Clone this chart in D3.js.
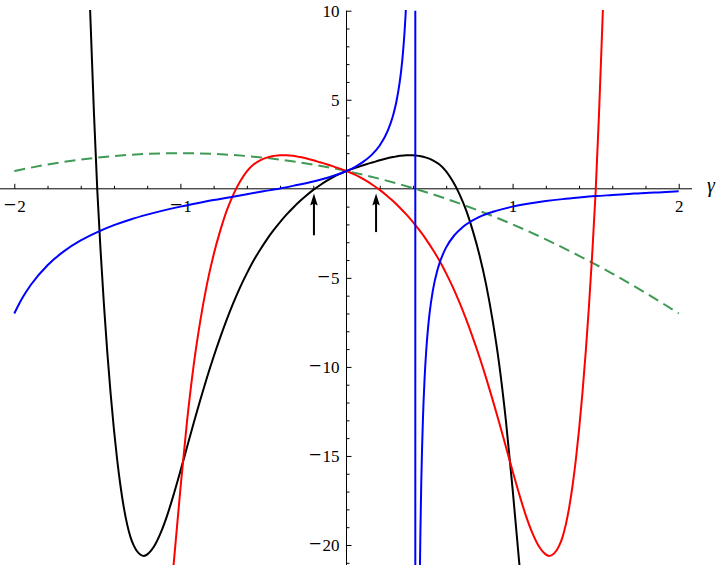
<!DOCTYPE html>
<html><head><meta charset="utf-8">
<script src="https://cdn.jsdelivr.net/npm/d3@7"></script>
<style>body{margin:0;background:#fff}svg{display:block}
.lbl{font-family:"Liberation Serif","DejaVu Serif",serif;}
</style>
</head><body>
<svg id="c" width="720" height="565"></svg>
<script>
// ---- data ----
const xTickValues = [-2, -1, 1, 2];
const yTickValues = [-20, -15, -10, -5, 5, 10];
const axisLabel = "γ";

const greenX = [-2, -1.8, -1.6, -1.4, -1.2, -1.0, -0.8, -0.6, -0.4, -0.2, 0, 0.2, 0.4, 0.6, 0.8, 1.0, 1.2, 1.4, 1.6, 1.8, 2.0];
const greenY = [1, 1.36, 1.64, 1.84, 1.96, 2, 1.96, 1.84, 1.64, 1.36, 1, 0.56, 0.04, -0.56, -1.24, -2, -2.84, -3.76, -4.76, -5.84, -7];

const blueLeftX = [-2, -1.95, -1.9, -1.8, -1.7, -1.6, -1.5, -1.4, -1.3, -1.2, -1.1, -1.0, -0.9, -0.8, -0.7, -0.6, -0.5, -0.4, -0.3, -0.2, -0.1, 0, 0.05, 0.1, 0.15, 0.2, 0.25, 0.28, 0.30, 0.32, 0.33, 0.34, 0.35, 0.355, 0.36];
const blueLeftY = [-7, -6.11, -5.39, -4.29, -3.50, -2.90, -2.43, -2.04, -1.72, -1.45, -1.21, -1.0, -0.81, -0.63, -0.47, -0.30, -0.14, 0.02, 0.21, 0.41, 0.66, 1.0, 1.22, 1.51, 1.89, 2.43, 3.29, 4.10, 4.87, 5.97, 6.71, 7.65, 8.89, 9.66, 10.57];
const blueRightX = [0.44, 0.445, 0.45, 0.455, 0.46, 0.47, 0.48, 0.49, 0.50, 0.52, 0.55, 0.60, 0.65, 0.70, 0.80, 0.90, 1.0, 1.1, 1.2, 1.3, 1.4, 1.5, 1.6, 1.7, 1.8, 1.9, 2.0];
const blueRightY = [-22.91, -19.23, -16.56, -14.56, -12.98, -10.68, -9.08, -7.91, -7.0, -5.70, -4.47, -3.29, -2.60, -2.15, -1.58, -1.24, -1.0, -0.83, -0.69, -0.58, -0.49, -0.41, -0.35, -0.29, -0.23, -0.19, -0.14];
const blueAsymptoteX = [0.4142];

const blackX = [-1.545, -1.54, -1.52, -1.50, -1.48, -1.46, -1.44, -1.42, -1.40, -1.38, -1.36, -1.34, -1.32, -1.30, -1.28, -1.25, -1.22, -1.19, -1.16, -1.12, -1.08, -1.04, -1.00, -0.96, -0.92, -0.88, -0.84, -0.80, -0.76, -0.72, -0.68, -0.64, -0.60, -0.56, -0.52, -0.48, -0.44, -0.40, -0.36, -0.32, -0.28, -0.24, -0.20, -0.16, -0.12, -0.08, -0.04, 0, 0.04, 0.08, 0.12, 0.16, 0.20, 0.24, 0.28, 0.32, 0.36, 0.40, 0.44, 0.48, 0.52, 0.56, 0.60, 0.64, 0.68, 0.72, 0.76, 0.80, 0.84, 0.88, 0.92, 0.96, 1.00, 1.04, 1.06];
const blackY = [10.4, 9.15, 4.15, -0.15, -3.55, -6.55, -9.19, -11.51, -13.53, -15.27, -16.73, -17.93, -18.87, -19.57, -20.05, -20.47, -20.62, -20.45, -20.1, -19.35, -18.35, -17.15, -15.85, -14.5, -13.15, -11.85, -10.6, -9.43, -8.34, -7.32, -6.38, -5.52, -4.75, -4.04, -3.42, -2.85, -2.34, -1.87, -1.44, -1.05, -0.69, -0.36, -0.06, 0.20, 0.44, 0.66, 0.84, 1.0, 1.13, 1.26, 1.38, 1.49, 1.60, 1.70, 1.78, 1.85, 1.89, 1.89, 1.84, 1.75, 1.60, 1.36, 0.98, 0.42, -0.30, -1.20, -2.35, -3.70, -5.35, -7.40, -9.90, -13.05, -16.85, -21.0, -22.9];

const redX = [-1.06, -1.04, -1.00, -0.96, -0.92, -0.88, -0.84, -0.80, -0.76, -0.72, -0.68, -0.64, -0.60, -0.56, -0.52, -0.48, -0.44, -0.40, -0.36, -0.32, -0.28, -0.24, -0.20, -0.16, -0.12, -0.08, -0.04, 0, 0.04, 0.08, 0.12, 0.16, 0.20, 0.24, 0.28, 0.32, 0.36, 0.40, 0.44, 0.48, 0.52, 0.56, 0.60, 0.64, 0.68, 0.72, 0.76, 0.80, 0.84, 0.88, 0.92, 0.96, 1.00, 1.04, 1.08, 1.12, 1.16, 1.19, 1.22, 1.25, 1.28, 1.30, 1.32, 1.34, 1.36, 1.38, 1.40, 1.42, 1.44, 1.46, 1.48, 1.50, 1.52, 1.54, 1.545];
const redY = [-22.9, -21.0, -16.85, -13.05, -9.90, -7.40, -5.35, -3.70, -2.35, -1.20, -0.30, 0.42, 0.98, 1.36, 1.60, 1.75, 1.84, 1.89, 1.89, 1.85, 1.78, 1.70, 1.60, 1.49, 1.38, 1.26, 1.13, 1.0, 0.84, 0.66, 0.44, 0.20, -0.06, -0.36, -0.69, -1.05, -1.44, -1.87, -2.34, -2.85, -3.42, -4.04, -4.75, -5.52, -6.38, -7.32, -8.34, -9.43, -10.6, -11.85, -13.15, -14.5, -15.85, -17.15, -18.35, -19.35, -20.1, -20.45, -20.62, -20.47, -20.05, -19.57, -18.87, -17.93, -16.73, -15.27, -13.53, -11.51, -9.19, -6.55, -3.55, -0.15, 4.15, 9.15, 10.4];

const arrowX = [-0.196, 0.178];
const arrowTipY = [-0.27, -0.27];
const arrowTailY = [-2.61, -2.43];

// ---- drawing ----
const W = 720, H = 565;
const svg = d3.select("#c");
const x = d3.scaleLinear().domain([-2, 2]).range([14.3, 678.7]);
const y = d3.scaleLinear().domain([-20, 10]).range([545, 10.7]);

svg.append("defs").append("clipPath").attr("id", "clip")
  .append("rect").attr("x", 0).attr("y", y(10) - 0.7).attr("width", W).attr("height", H - y(10) + 0.7);

const zip = (xs, ys) => xs.map((v, i) => [v, ys[i]]);
const line = d3.line().x(d => x(d[0])).y(d => y(d[1])).curve(d3.curveMonotoneX);

const axes = svg.append("g");
const plot = svg.append("g").attr("clip-path", "url(#clip)");

const y0 = y(0), xAx = x(0);
axes.append("line").attr("x1", 0).attr("x2", 692).attr("y1", y0).attr("y2", y0).attr("stroke", "#000").attr("stroke-width", 1);
axes.append("line").attr("x1", xAx).attr("x2", xAx).attr("y1", y(10)).attr("y2", H).attr("stroke", "#000").attr("stroke-width", 1);

const xMinor = d3.range(-10, 11).map(i => i / 5).filter(v => Math.abs(v - Math.round(v)) > 1e-6);
const yMinor = d3.range(-21, 11).filter(v => v % 5 !== 0);

const gx = axes.append("g").attr("transform", `translate(0,${y0})`);
gx.call(d3.axisBottom(x).tickValues(xTickValues).tickSize(-5).tickPadding(11).tickFormat(d3.format("d")));
gx.append("g").call(d3.axisBottom(x).tickValues(xMinor).tickSize(-3).tickFormat(""));
const gy = axes.append("g").attr("transform", `translate(${xAx},0)`);
gy.call(d3.axisLeft(y).tickValues(yTickValues).tickSize(-5).tickPadding(7).tickFormat(d3.format("d")));
gy.append("g").call(d3.axisLeft(y).tickValues(yMinor).tickSize(-3).tickFormat(""));
axes.selectAll(".domain").remove();
axes.selectAll(".tick line").attr("stroke", "#000").attr("stroke-width", 1);
axes.selectAll("g").attr("font-family", null).attr("font-size", null);
// labels: Times-like, with a long minus sign
axes.selectAll(".tick text").each(function () {
  const t = d3.select(this);
  const s = t.text();
  if (!s) return;
  t.attr("class", "lbl").style("font-size", "17px").attr("fill", "#000").text(null);
  if (s[0] === "\u2212" || s[0] === "-") {
    t.append("tspan").style("font-size", "22px").text("\u2212");
    t.append("tspan").attr("dx", 1).text(s.slice(1));
  } else {
    t.append("tspan").text(s);
  }
});

axes.append("text").attr("class", "lbl").attr("x", 707).attr("y", 192)
  .style("font-style", "italic").style("font-size", "20px").text(axisLabel);

// curves
plot.append("path").datum(zip(greenX, greenY)).attr("d", line)
  .attr("fill", "none").attr("stroke", "#3f9a55").attr("stroke-width", 2).attr("stroke-dasharray", "11,6");
plot.append("path").datum(zip(blackX, blackY)).attr("d", line)
  .attr("fill", "none").attr("stroke", "#000").attr("stroke-width", 2);
plot.append("path").datum(zip(redX, redY)).attr("d", line)
  .attr("fill", "none").attr("stroke", "#ff0000").attr("stroke-width", 2);
plot.append("path").datum(zip(blueLeftX, blueLeftY)).attr("d", line)
  .attr("fill", "none").attr("stroke", "#0000ff").attr("stroke-width", 2);
plot.append("path").datum(zip(blueRightX, blueRightY)).attr("d", line)
  .attr("fill", "none").attr("stroke", "#0000ff").attr("stroke-width", 2);
plot.selectAll(".asym").data(blueAsymptoteX).join("line").attr("class", "asym")
  .attr("x1", d => x(d)).attr("x2", d => x(d)).attr("y1", y(10)).attr("y2", H)
  .attr("stroke", "#0000ff").attr("stroke-width", 2);

// arrows
const arrows = svg.append("g");
arrowX.forEach((ax, i) => {
  const px = x(ax), tip = y(arrowTipY[i]), tail = y(arrowTailY[i]);
  arrows.append("line").attr("x1", px).attr("x2", px).attr("y1", tail).attr("y2", tip + 9)
    .attr("stroke", "#000").attr("stroke-width", 2);
  arrows.append("path")
    .attr("d", `M${px},${tip} L${px - 3.8},${tip + 12} L${px},${tip + 10} L${px + 3.8},${tip + 12} Z`)
    .attr("fill", "#000");
});
</script>
</body></html>
